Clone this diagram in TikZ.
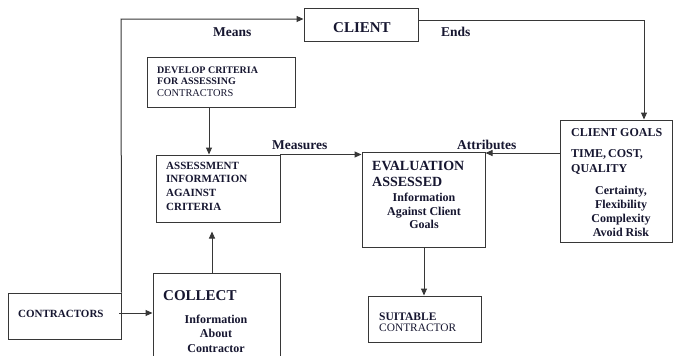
\documentclass[tikz,border=0pt]{standalone}
\usepackage{fontspec}
\setmainfont{Liberation Serif}
\usetikzlibrary{arrows.meta}
\definecolor{txt}{RGB}{22,22,48}
\definecolor{ln}{RGB}{55,55,55}
\tikzset{
  box/.style={draw=ln, line width=1pt, inner sep=0pt, fill=none},
  lbl/.style={inner sep=0pt, anchor=base west, text=txt, font=\bfseries},
  clbl/.style={inner sep=0pt, anchor=base, text=txt, font=\bfseries},
  conn/.style={draw=ln, line width=1pt, -{Triangle[length=7pt,width=6pt]}},
  line/.style={draw=ln, line width=1pt}
}
\newcommand{\fs}[1]{\fontsize{#1}{#1}\selectfont}
\begin{document}
\begin{tikzpicture}[x=1pt,y=-1pt]
\useasboundingbox (0,0) rectangle (673,356);
\clip (0,0) rectangle (673,356);
\fill[white] (0,0) rectangle (673,356);
% boxes
\node[box, minimum width=114pt, minimum height=33pt] (client) at (361,24.5) {};
\node[box, minimum width=148pt, minimum height=50pt] (develop) at (221,82) {};
\node[box, minimum width=124pt, minimum height=67pt] (assess) at (218,188.5) {};
\node[box, minimum width=123pt, minimum height=95pt] (eval) at (423.5,199.5) {};
\node[box, minimum width=112pt, minimum height=122pt] (goals) at (616,181) {};
\node[box, minimum width=113pt, minimum height=46pt] (suit) at (424.5,319) {};
\node[box, minimum width=113pt, minimum height=46pt] (contr) at (64.5,316) {};
\node[box, minimum width=127pt, minimum height=95pt] (collect) at (216.5,320.5) {};
% texts
\node[lbl, font=\bfseries\fs{15}] (tclient) at (333,32) {CLIENT};
\node[lbl, font=\bfseries\fs{10}] (td1) at (157,73) {DEVELOP CRITERIA};
\node[lbl, font=\bfseries\fs{10}] (td2) at (157,84.5) {FOR ASSESSING};
\node[lbl, font=\fs{10.4}] (td3) at (157,96) {CONTRACTORS};
\node[lbl, font=\bfseries\fs{11}] (ta1) at (166,169) {ASSESSMENT};
\node[lbl, font=\bfseries\fs{11}] (ta2) at (166,182.5) {INFORMATION};
\node[lbl, font=\bfseries\fs{11}] (ta3) at (166,196) {AGAINST};
\node[lbl, font=\bfseries\fs{11}] (ta4) at (166,210.5) {CRITERIA};
\node[lbl, font=\bfseries\fs{14}] (te1) at (372,170) {EVALUATION};
\node[lbl, font=\bfseries\fs{14}] (te2) at (372,186) {ASSESSED};
\node[clbl, font=\bfseries\fs{12}] (te3) at (424,201.5) {Information};
\node[clbl, font=\bfseries\fs{12}] (te4) at (424,215) {Against Client};
\node[clbl, font=\bfseries\fs{12}] (te5) at (424,228.5) {Goals};
\node[lbl, font=\bfseries\fs{12}] (tg1) at (571,136) {CLIENT GOALS};
\node[lbl, font=\bfseries\fs{12}] (tg2) at (571,157) {TIME,\kern-1pt{} COST,};
\node[lbl, font=\bfseries\fs{12}] (tg3) at (571,172) {QUALITY};
\node[clbl, font=\bfseries\fs{12}] (tg4) at (621,194.5) {Certainty,};
\node[clbl, font=\bfseries\fs{12}] (tg5) at (621,208) {Flexibility};
\node[clbl, font=\bfseries\fs{12}] (tg6) at (621,222) {Complexity};
\node[clbl, font=\bfseries\fs{12}] (tg7) at (621,236.5) {Avoid Risk};
\node[lbl, font=\bfseries\fs{11}] (tc1) at (18,317) {CONTRACTORS};
\node[lbl, font=\bfseries\fs{15}] (tk1) at (163,300.5) {COLLECT};
\node[clbl, font=\bfseries\fs{12}] (tk2) at (216,323) {Information};
\node[clbl, font=\bfseries\fs{12}] (tk3) at (216,337.5) {About};
\node[clbl, font=\bfseries\fs{12}] (tk4) at (216,352) {Contractor};
\node[lbl, font=\bfseries\fs{11.5}] (ts1) at (379,320) {SUITABLE};
\node[lbl, font=\fs{11.4}] (ts2) at (379,331.5) {CONTRACTOR};
% connector labels
\node[lbl, font=\bfseries\fs{13.5}] (lmeans) at (213,37) {Means};
\node[lbl, font=\bfseries\fs{13.5}] (lends) at (441,37) {Ends};
\node[lbl, font=\bfseries\fs{13.5}] (lmeas) at (272,149.5) {Measures};
\node[lbl, font=\bfseries\fs{13.5}] (lattr) at (457,149.5) {Attributes};
% connectors
\coordinate (m1) at (121,19);
\draw[conn] (contr.north east) -- (m1) -- (client.west |- m1);
\coordinate (e0) at (418,20);
\coordinate (e1) at (644,20);
\draw[conn] (e0) -- (e1) -- (goals.north -| e1);
\coordinate (d0) at (209,107);
\draw[conn] (d0) -- (assess.north -| d0);
\coordinate (c0) at (212,273);
\draw[conn, shorten >=9pt] (c0) -- (assess.south -| c0);
\coordinate (ms) at (280,154.5);
\draw[conn] (ms) -- (eval.west |- ms);
\coordinate (at) at (560,153);
\draw[conn] (at) -- (eval.east |- at);
\coordinate (ev) at (424,247);
\draw[conn] (ev) -- (suit.north -| ev);
\coordinate (ct) at (119,313);
\draw[conn] (ct) -- (collect.west |- ct);
\end{tikzpicture}
\end{document}
